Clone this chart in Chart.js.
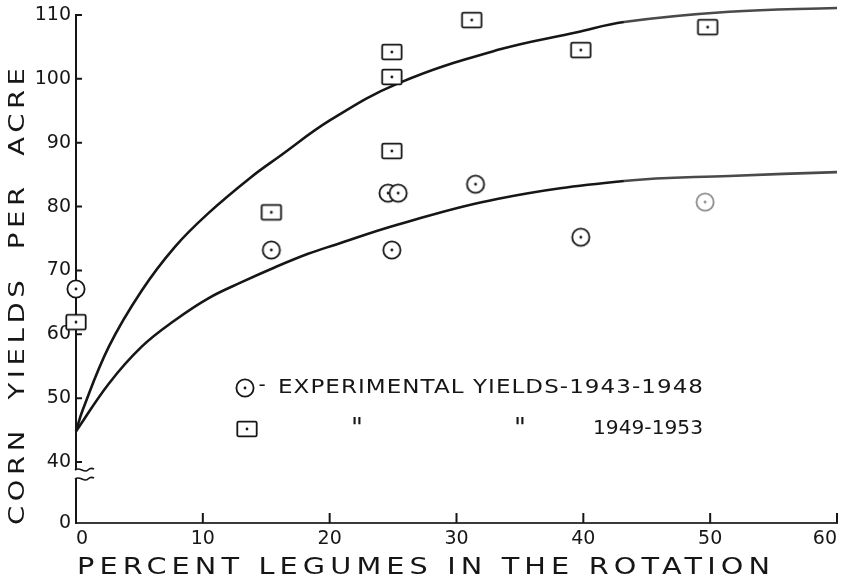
<!DOCTYPE html>
<html>
<head>
<meta charset="utf-8">
<script src="https://cdn.jsdelivr.net/npm/chart.js@4.4.1/dist/chart.umd.min.js"></script>
<style>
  html, body { margin: 0; padding: 0; background: #fff; }
  canvas { display: block; }
</style>
</head>
<body>
<canvas id="chart" width="848" height="581"></canvas>
<script>
// ticks
const xTickValues = [0, 10, 20, 30, 40, 50, 60];
const yTickValues = [40, 50, 60, 70, 80, 90, 100, 110];
const yBreakBase = 30.45; // where the "0" sits under the axis break

// experimental yields 1943-1948 (circles)
const yields4348X = [0, 15.4, 24.6, 25.4, 24.9, 31.5, 39.8, 49.6];
const yields4348Y = [67.1, 73.2, 82.1, 82.1, 73.2, 83.5, 75.2, 80.7];

// experimental yields 1949-1953 (squares)
const yields4953X = [0, 15.4, 24.9, 24.9, 24.9, 31.2, 39.8, 49.8];
const yields4953Y = [61.9, 79.1, 88.7, 100.3, 104.2, 109.2, 104.5, 108.1];

// fitted curves
const upperCurveX = [0, 0.5, 2.6, 5.2, 7.8, 10.4, 13.8, 16, 20.1, 25.4, 33.2, 39.5, 43.2, 51.5, 60];
const upperCurveY = [44.8, 48.0, 58.1, 66.9, 73.7, 78.9, 84.6, 87.8, 93.6, 99.3, 104.5, 107.3, 108.9, 110.5, 111.1];
const lowerCurveX = [0, 2.6, 5.2, 7.8, 10.4, 13.1, 15.7, 18.3, 20.4, 25.4, 33.2, 43.2, 51.5, 60];
const lowerCurveY = [44.8, 52.3, 58.1, 62.2, 65.6, 68.2, 70.5, 72.6, 74.0, 77.2, 81.2, 84.0, 84.8, 85.4];

const xTitle = "PERCENT LEGUMES IN THE ROTATION";
const yTitle = "CORN  YIELDS  PER  ACRE";
const label4348 = "EXPERIMENTAL YIELDS-1943-1948";
const label4953 = "1949-1953";

const ink = "#161616";
Chart.defaults.font.family = "'DejaVu Sans', sans-serif";
Chart.defaults.color = ink;

function makeGlyph(kind, color) {
  const c = document.createElement("canvas");
  const w = kind === "circle" ? 22 : 24;
  const h = kind === "circle" ? 22 : 20;
  c.width = w; c.height = h;
  const g = c.getContext("2d");
  g.fillStyle = "#fff";
  g.strokeStyle = color;
  g.lineWidth = 1.8;
  g.beginPath();
  if (kind === "circle") {
    g.arc(w / 2, h / 2, 8.6, 0, Math.PI * 2);
  } else {
    g.roundRect(w / 2 - 9.7, h / 2 - 7.4, 19.4, 14.8, 1.5);
  }
  g.fill();
  g.stroke();
  g.fillStyle = color;
  g.beginPath();
  g.arc(w / 2, h / 2, 1.4, 0, Math.PI * 2);
  g.fill();
  return c;
}
const circleGlyph = makeGlyph("circle", ink);
const fadedCircleGlyph = makeGlyph("circle", "#8c8c8c");
const squareGlyph = makeGlyph("square", ink);

function pts(xs, ys) {
  return xs.map((x, i) => ({ x: x, y: ys[i] }));
}

// lettering in the old drawing is wide, so stretch it and fit to a length
function spacedText(ctx, text, x, y, target, stretch) {
  ctx.save();
  ctx.translate(x, y);
  ctx.letterSpacing = "0px";
  const w = ctx.measureText(text).width;
  const s = Math.min(stretch, target / w);
  ctx.scale(s, 1);
  const sp = Math.max(0, (target / s - w) / (text.length - 1));
  ctx.letterSpacing = sp + "px";
  ctx.textAlign = "left";
  ctx.fillText(text, 0, 0);
  ctx.restore();
}

const decorations = {
  id: "decorations",
  beforeDatasetsDraw(chart) {
    const ctx = chart.ctx;
    const xs = chart.scales.x, ys = chart.scales.y;
    const left = chart.chartArea.left, bottom = chart.chartArea.bottom;
    ctx.save();
    ctx.strokeStyle = ink;
    ctx.lineWidth = 2;
    // inward tick marks
    ctx.beginPath();
    yTickValues.forEach(v => {
      const py = ys.getPixelForValue(v);
      ctx.moveTo(left, py);
      ctx.lineTo(left + 6, py);
    });
    xTickValues.slice(1).forEach(v => {
      const px = xs.getPixelForValue(v);
      ctx.moveTo(px, bottom);
      ctx.lineTo(px, bottom - 10);
    });
    ctx.stroke();
    // axis break between 0 and 40
    const b1 = ys.getPixelForValue(40) + 8;
    const b2 = b1 + 9;
    ctx.fillStyle = "#fff";
    ctx.fillRect(left - 3, b1, 6, b2 - b1);
    ctx.lineWidth = 1.6;
    [b1, b2].forEach(by => {
      ctx.beginPath();
      ctx.moveTo(left - 1, by);
      ctx.bezierCurveTo(left + 4, by - 4, left + 8, by + 4, left + 12, by);
      ctx.bezierCurveTo(left + 14, by - 2, left + 16, by - 2, left + 18, by - 1);
      ctx.stroke();
    });
    ctx.restore();
  },
  afterDraw(chart) {
    const ctx = chart.ctx;
    ctx.save();
    ctx.fillStyle = ink;
    ctx.textBaseline = "middle";
    // axis titles
    ctx.font = "23px 'DejaVu Sans', sans-serif";
    spacedText(ctx, xTitle, 77, 568, 693, 1.25);
    ctx.save();
    ctx.translate(18, 525);
    ctx.rotate(-Math.PI / 2);
    ctx.font = "22px 'DejaVu Sans', sans-serif";
    spacedText(ctx, yTitle, 0, 0, 457, 1.25);
    ctx.restore();
    // key
    ctx.font = "20px 'DejaVu Sans', sans-serif";
    ctx.drawImage(circleGlyph, 245 - circleGlyph.width / 2, 388 - circleGlyph.height / 2);
    ctx.textAlign = "center";
    ctx.fillText("-", 262, 386);
    spacedText(ctx, label4348, 278, 388, 425, 1.15);
    ctx.drawImage(squareGlyph, 247 - squareGlyph.width / 2, 429 - squareGlyph.height / 2);
    spacedText(ctx, label4953, 593, 429, 110, 1.15);
    ctx.font = "26px 'DejaVu Sans', sans-serif";
    ctx.textAlign = "center";
    ctx.fillText('"', 357, 430);
    ctx.fillText('"', 520, 430);
    ctx.restore();
  }
};

new Chart(document.getElementById("chart"), {
  type: "scatter",
  data: {
    datasets: [
      {
        label: label4348,
        data: pts(yields4348X, yields4348Y),
        pointStyle: c => c.dataIndex === yields4348X.length - 1 ? fadedCircleGlyph : circleGlyph,
        pointRadius: 10,
        clip: false,
        order: 0
      },
      {
        label: label4953,
        data: pts(yields4953X, yields4953Y),
        pointStyle: squareGlyph,
        pointRadius: 10,
        clip: false,
        order: 0
      },
      {
        label: "curve 1949-1953",
        data: pts(upperCurveX, upperCurveY),
        showLine: true,
        borderColor: ink,
        borderWidth: 2.6,
        pointRadius: 0,
        tension: 0.4,
        segment: { borderColor: c => c.p0.parsed.x >= 43 ? "#4a4a4a" : ink },
        clip: false,
        order: 1
      },
      {
        label: "curve 1943-1948",
        data: pts(lowerCurveX, lowerCurveY),
        showLine: true,
        borderColor: ink,
        borderWidth: 2.6,
        pointRadius: 0,
        tension: 0.4,
        segment: { borderColor: c => c.p0.parsed.x >= 43 ? "#4a4a4a" : ink },
        clip: false,
        order: 1
      }
    ]
  },
  options: {
    responsive: false,
    animation: false,
    layout: { padding: { top: 15, right: 6, left: 0, bottom: 0 } },
    plugins: {
      legend: { display: false },
      tooltip: { enabled: false }
    },
    scales: {
      x: {
        type: "linear",
        min: 0,
        max: 60,
        afterBuildTicks: s => { s.ticks = xTickValues.map(v => ({ value: v })); },
        afterFit: s => { s.height = 58; s.paddingLeft = 0; s.paddingRight = 0; },
        grid: { display: false, drawTicks: false },
        border: { color: "#3a3a3a", width: 2 },
        ticks: { align: "inner", padding: 5, font: { size: 19 }, color: ink }
      },
      y: {
        type: "linear",
        min: yBreakBase,
        max: 110,
        afterBuildTicks: s => { s.ticks = [yBreakBase].concat(yTickValues).map(v => ({ value: v })); },
        afterFit: s => { s.width = 76; s.paddingTop = 0; s.paddingBottom = 0; },
        grid: { display: false, drawTicks: false },
        border: { color: ink, width: 2 },
        ticks: {
          padding: 5,
          font: { size: 19 },
          color: ink,
          callback: v => v === yBreakBase ? "0" : String(v)
        }
      }
    }
  },
  plugins: [decorations]
});
</script>
</body>
</html>
